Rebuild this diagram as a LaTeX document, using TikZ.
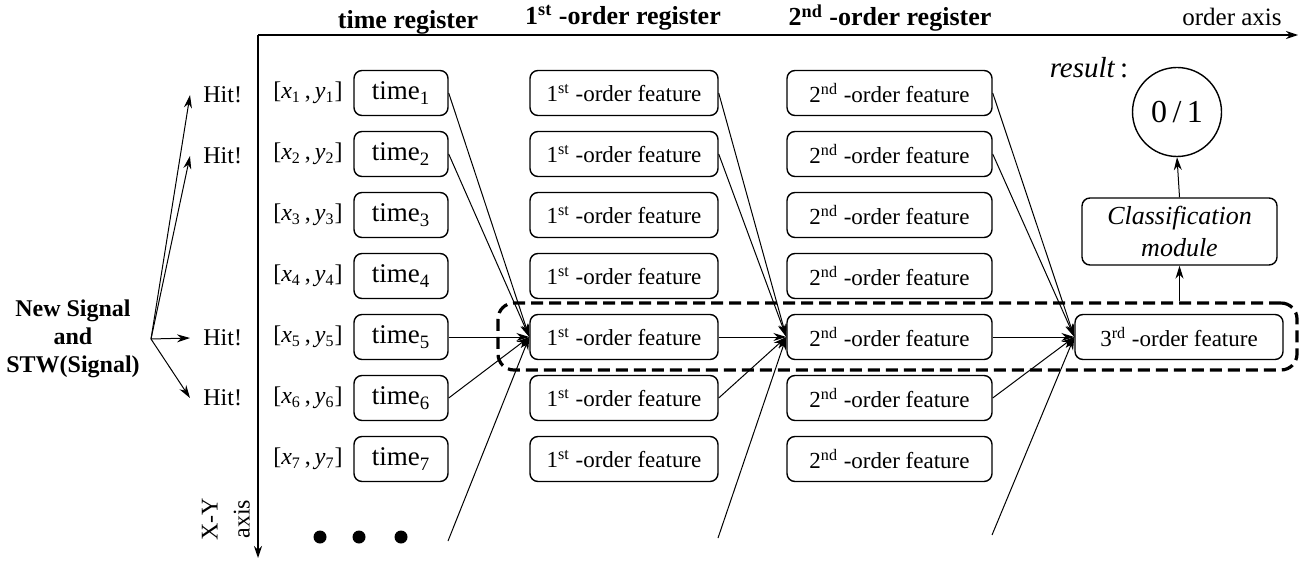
\documentclass[tikz,border=0pt]{standalone}
\usepackage{fontspec}
\setmainfont{Liberation Serif}
\usetikzlibrary{arrows.meta}

\newcommand{\xy}[1]{[\textit{x}\textsubscript{#1}\,,\,\textit{y}\textsubscript{#1}]}
\newcommand{\tm}[1]{time\textsubscript{#1}}
\newcommand{\fone}{1\textsuperscript{st} -order feature}
\newcommand{\ftwo}{2\textsuperscript{nd} -order feature}

\begin{document}
\begin{tikzpicture}[x=0.5pt,y=-0.5pt,
  box/.style={draw, rounded corners=4pt, line width=0.7pt, minimum height=22.5pt, inner sep=0pt},
  tbox/.style={box, minimum width=47pt, font=\fontsize{13.5}{16}\selectfont},
  fonebox/.style={box, minimum width=94pt, font=\fontsize{11.5}{14}\selectfont},
  ftwobox/.style={box, minimum width=102.5pt, font=\fontsize{11.5}{14}\selectfont},
  lbl/.style={font=\fontsize{12}{14}\selectfont, inner sep=0pt},
  head/.style={font=\bfseries\fontsize{13}{15}\selectfont, inner sep=0pt},
  link/.style={-{Stealth[length=6.5pt,width=4pt]}, line width=0.5pt},
  axisline/.style={-{Stealth[length=6pt,width=4pt]}, line width=0.7pt},
  dot/.style={circle, fill, inner sep=0pt, minimum size=6.5pt},
  groupbox/.style={draw, dash pattern=on 6pt off 3pt, line width=1.6pt, rounded corners=8pt,
                   minimum width=399.5pt, minimum height=33.5pt, inner sep=0pt}]

\useasboundingbox (0,0) rectangle (1305,561);

% axes
\coordinate (origin) at (258,35);
\coordinate (xend) at (1298,35);
\coordinate (yend) at (258,558);
\draw[axisline] (origin) -- (xend);
\draw[axisline] (origin) -- (yend);
\node[lbl, font=\fontsize{12.5}{15}\selectfont] (oaxis) at (1232,17) {order axis};
\node[lbl, rotate=90, align=center, font=\fontsize{12}{16}\selectfont] (xyaxis) at (226,519) {X-Y\\axis};

% column headings
\node[head] (h0) at (408,22) {time register};
\node[head] (h1) at (623,18) {1\textsuperscript{st} -order register};
\node[head] (h2) at (890,18) {2\textsuperscript{nd} -order register};

% rows
\foreach \i/\y in {1/93,2/154,3/215,4/276,5/337,6/398,7/459}{
  \node[lbl] (p\i) at (308,\y) {\xy{\i}};
  \node[tbox] (t\i) at (401,\y) {\tm{\i}};
  \node[fonebox] (a\i) at (624,\y) {\fone};
  \node[ftwobox] (b\i) at (889.5,\y) {\ftwo};
}

% third order, classification, result
\node[box, minimum width=104pt, font=\fontsize{11.5}{14}\selectfont] (c5) at (1179,337) {3\textsuperscript{rd} -order feature};
\node[box, minimum width=97.5pt, minimum height=33.5pt, align=center, font=\itshape\fontsize{13}{16}\selectfont] (cls) at (1179.5,231.5) {Classification\\module};
\node[draw, circle, line width=0.7pt, minimum size=44.5pt, inner sep=0pt, font=\fontsize{16}{18}\selectfont] (res) at (1177,112) {0\,/\,1};
\node[lbl, font=\fontsize{14.5}{16}\selectfont] (reslbl) at (1089,68) {\textit{result}\,:};

% dashed group
\node[groupbox] (grp) at (897.5,336.5) {};

% signal source and hits
\node[font=\bfseries\fontsize{12}{14}\selectfont, align=center, inner sep=0pt] (sigtxt) at (73,339) {New Signal\\and\\STW(Signal)};
\coordinate (sig) at (151,339);
\foreach \i/\y in {1/95,2/156,5/338,6/398}{
  \node[lbl, anchor=west, inner xsep=6.5pt] (hit\i) at (190,\y) {Hit!};
  \draw[link] (sig) -- (hit\i.west);
}

% dots
\node[dot] (d1) at (320,537) {};
\node[dot] (d2) at (359,537) {};
\node[dot] (d3) at (401,537) {};

% free ends coming from below
\coordinate (u1) at (448,541);
\coordinate (u2) at (718,538);
\coordinate (u3) at (992,535);

% links into the first-order feature
\foreach \s in {t1,t2,t5,t6} \draw[link] (\s.east) -- (a5.west);
\draw[link] (u1) -- (a5.west);
% links into the second-order feature
\foreach \s in {a1,a2,a5,a6} \draw[link] (\s.east) -- (b5.west);
\draw[link] (u2) -- (b5.west);
% links into the third-order feature
\foreach \s in {b1,b2,b5,b6} \draw[link] (\s.east) -- (c5.west);
\draw[link] (u3) -- (c5.west);

% classification chain
\draw[link] (grp.north -| cls.south) -- (cls.south);
\draw[link] (cls.north) -- (res.south);
\end{tikzpicture}
\end{document}
